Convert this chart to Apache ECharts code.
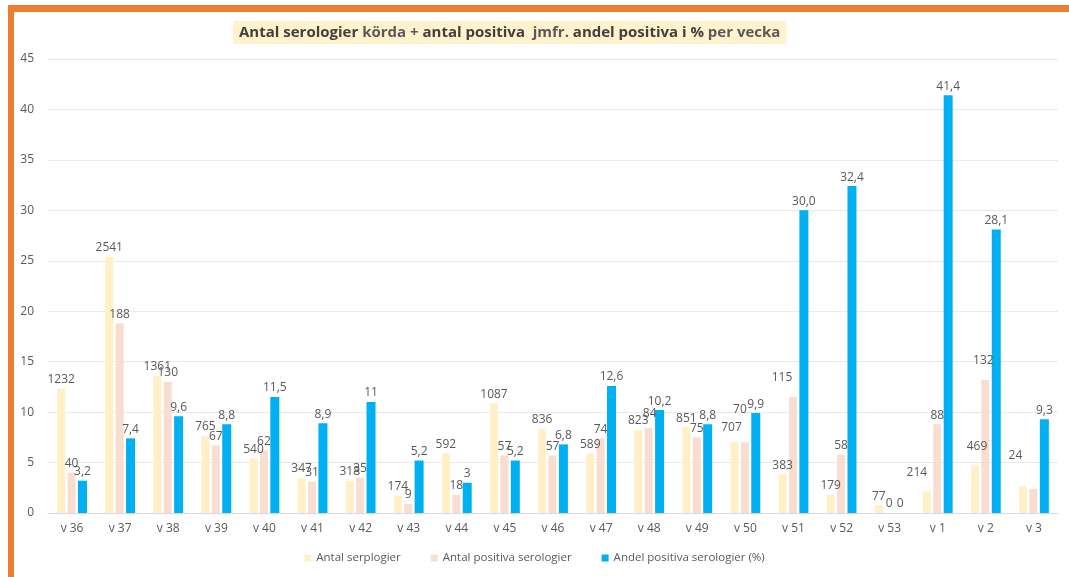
<!DOCTYPE html>
<html>
<head>
<meta charset="utf-8">
<script src="https://cdn.jsdelivr.net/npm/echarts@6/dist/echarts.min.js"></script>
<style>
  html, body { margin:0; padding:0; background:#fff; }
  #chart { position:absolute; left:0; top:0; width:1069px; height:577px; }
  #frameTop { position:absolute; left:8px; top:5px; width:1061px; height:7px; background:#ED7D31; }
  #frameLeft { position:absolute; left:8px; top:5px; width:6px; height:572px; background:#ED7D31; }
</style>
</head>
<body>
<div id="chart"></div>
<div id="frameTop"></div>
<div id="frameLeft"></div>
<script>
const categories = ['v 36','v 37','v 38','v 39','v 40','v 41','v 42','v 43','v 44','v 45','v 46','v 47','v 48','v 49','v 50','v 51','v 52','v 53','v 1','v 2','v 3'];
// Antal serologier (raw counts, plotted /100)
const antalSerologier = [1232, 2541, 1361, 765, 540, 347, 318, 174, 592, 1087, 836, 589, 823, 851, 707, 383, 179, 77, 214, 469, 265];
const antalSerologierShowLabel = [true,true,true,true,true,true,true,true,true,true,true,true,true,true,true,true,true,true,true,true,false];
// Antal positiva serologier (raw counts, plotted /10)
const antalPositiva = [40, 188, 130, 67, 62, 31, 35, 9, 18, 57, 57, 74, 84, 75, 70, 115, 58, 0, 88, 132, 24];
// Andel positiva serologier (%)
const andelPositiva = [3.2, 7.4, 9.6, 8.8, 11.5, 8.9, 11, 5.2, 3, 5.2, 6.8, 12.6, 10.2, 8.8, 9.9, 30.0, 32.4, 0, 41.4, 28.1, 9.3];
const andelLabels = ['3,2','7,4','9,6','8,8','11,5','8,9','11','5,2','3','5,2','6,8','12,6','10,2','8,8','9,9','30,0','32,4','0','41,4','28,1','9,3'];
const yTicks = [0, 5, 10, 15, 20, 25, 30, 35, 40, 45];
const seriesNames = ['Antal serplogier', 'Antal positiva serologier', 'Andel positiva serologier (%)'];

// label nudges (index -> [dx, dy]) for labels moved off their bars in the original
const serLabelNudge = { 14: [-3, -5], 18: [-10, -10], 19: [2, -10] };
const posLabelNudge = { 12: [1, -6], 14: [-5, -24], 15: [-11, -10], 19: [-2, -10], 20: [-18, -24] };

const FONT = '"Open Sans", Lato, sans-serif';
const labelStyle = { show: true, position: 'top', color: '#595959', fontSize: 12, fontFamily: FONT, distance: 3 };

const chart = echarts.init(document.getElementById('chart'));
chart.setOption({
  animation: false,
  textStyle: { fontFamily: FONT },
  title: {
    text: '{b|Antal serologier}{n| körda + }{b|antal positiva}{n|  jmfr. }{b|andel positiva i %}{n| per vecka}',
    left: 233,
    top: 21,
    backgroundColor: '#FFF2CC',
    padding: [4, 6, 4, 6],
    textStyle: {
      rich: {
        b: { fontWeight: 'bold', fontSize: 15, color: '#404040', fontFamily: FONT },
        n: { fontSize: 15, color: '#595959', fontFamily: FONT }
      }
    }
  },
  legend: {
    bottom: 8,
    left: 'center',
    itemWidth: 7,
    itemHeight: 7,
    itemGap: 30,
    icon: 'rect',
    textStyle: { color: '#595959', fontSize: 11.5, fontFamily: FONT },
    data: seriesNames
  },
  grid: { left: 48, right: 11, top: 59, bottom: 64 },
  xAxis: {
    type: 'category',
    data: categories,
    axisLine: { lineStyle: { color: '#D9D9D9' } },
    axisTick: { show: false },
    axisLabel: { color: '#595959', fontSize: 12, fontFamily: FONT, margin: 10 }
  },
  yAxis: {
    type: 'value',
    min: yTicks[0],
    max: yTicks[yTicks.length - 1],
    interval: 5,
    axisLine: { show: false },
    axisTick: { show: false },
    axisLabel: { color: '#595959', fontSize: 12, fontFamily: FONT, margin: 14 },
    splitLine: { lineStyle: { color: '#E9E9E9' } }
  },
  series: [
    {
      name: seriesNames[0],
      type: 'bar',
      barWidth: 8,
      barGap: '30%',
      itemStyle: { color: '#FFF0C8' },
      data: antalSerologier.map((v, i) => ({
        value: v / 100,
        raw: v,
        label: { show: antalSerologierShowLabel[i], offset: serLabelNudge[i] || [0, 0] }
      })),
      label: Object.assign({}, labelStyle, {
        formatter: p => String(p.data.raw)
      })
    },
    {
      name: seriesNames[1],
      type: 'bar',
      barWidth: 8,
      barGap: '30%',
      itemStyle: { color: '#F9DDD0' },
      data: antalPositiva.map((v, i) => ({
        value: v / 10,
        raw: v,
        label: { offset: posLabelNudge[i] || [0, 0] }
      })),
      label: Object.assign({}, labelStyle, {
        formatter: p => String(p.data.raw)
      })
    },
    {
      name: seriesNames[2],
      type: 'bar',
      barWidth: 9,
      barGap: '30%',
      itemStyle: { color: '#00B0F0' },
      data: andelPositiva,
      label: Object.assign({}, labelStyle, {
        formatter: p => andelLabels[p.dataIndex]
      })
    }
  ]
});
</script>
</body>
</html>
